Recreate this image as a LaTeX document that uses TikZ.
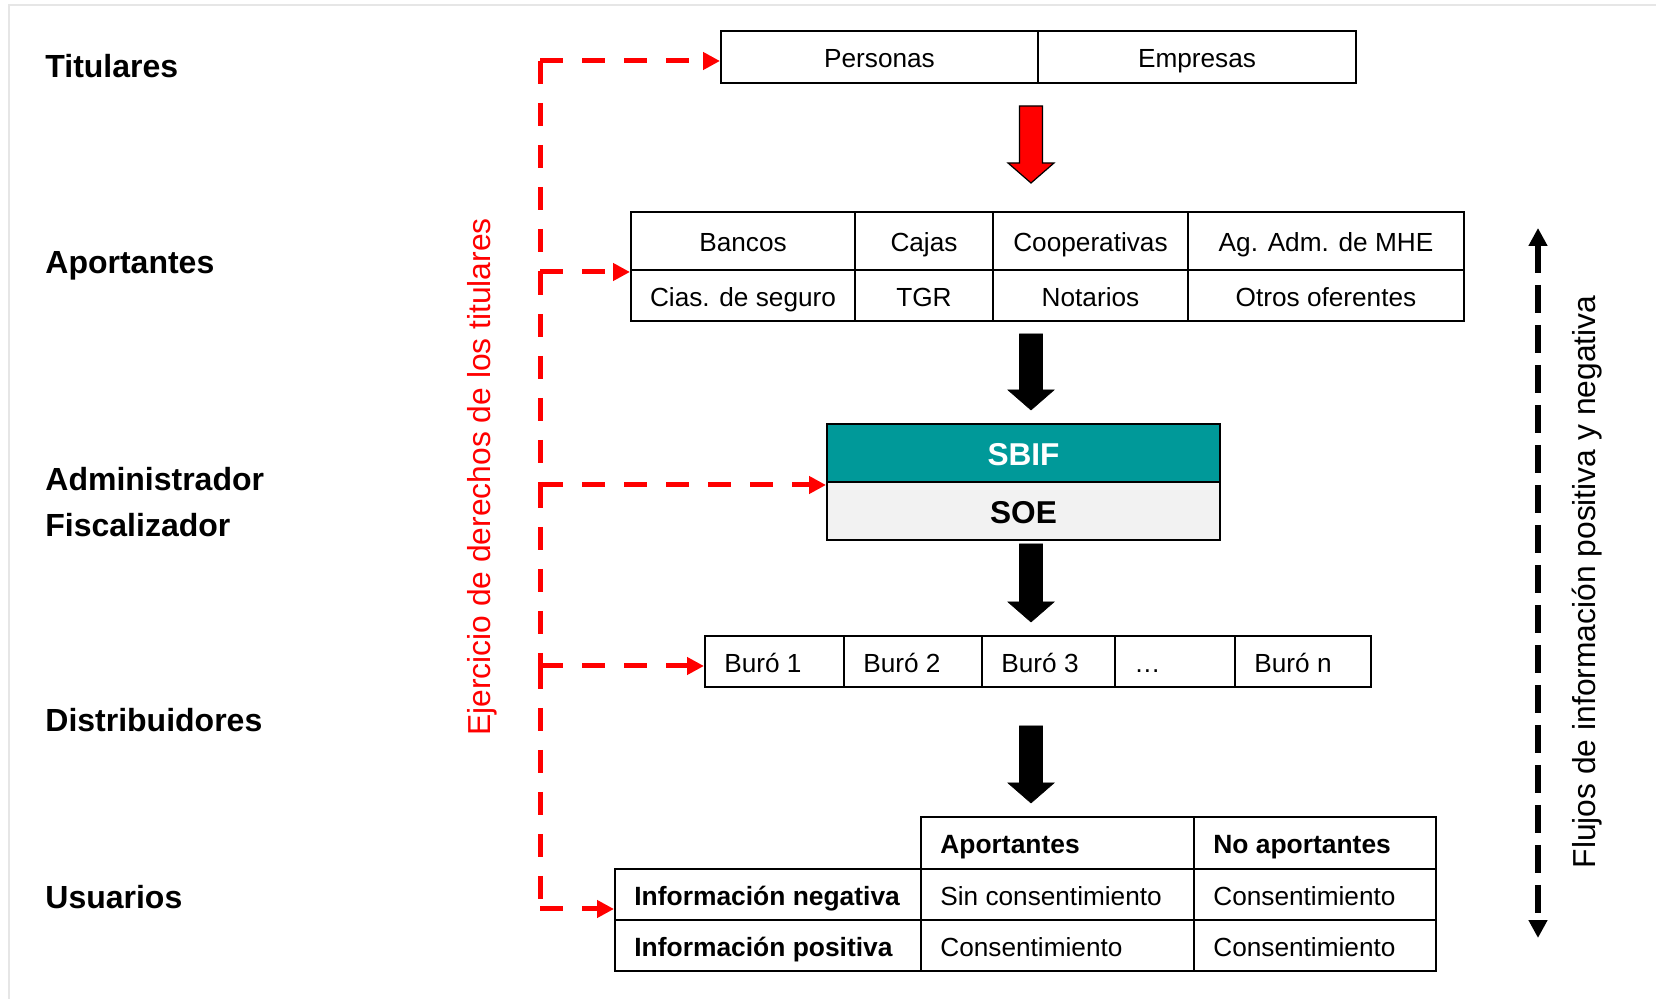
\documentclass[tikz,border=0pt]{standalone}
\usepackage{fontspec}
\setmainfont{Liberation Sans}
\usetikzlibrary{arrows.meta,calc}
\definecolor{tealbox}{RGB}{0,153,153}
\definecolor{soegray}{RGB}{242,242,242}
\definecolor{framegray}{RGB}{230,230,230}
\newcommand\mkcell[7][]{\node[cellst,minimum width={(#4-#2)*0.5pt},minimum height={(#5-#3)*0.5pt},#1] (#6) at ({(#2+#4)/2},{(#3+#5)/2}) {#7};}
\newcommand\blockarr[4]{\draw[#4] (#1-11.5,#2) -- (#1+11.5,#2) -- (#1+11.5,#3-20) -- (#1+23,#3-20) -- (#1,#3) -- (#1-23,#3-20) -- (#1-11.5,#3-20) -- cycle;}
\begin{document}
\begin{tikzpicture}[x=0.5pt,y=-0.5pt,
  cellst/.style={draw=black, line width=1pt, inner sep=0pt, text height=11pt, text depth=0pt, font=\fontsize{13.1}{15}\selectfont},
  bigcell/.style={text height=12.8pt, font=\fontsize{15.8}{19}\selectfont\bfseries},
  txt/.style={inner sep=0pt, text height=11pt, text depth=0pt, font=\fontsize{13.1}{15}\selectfont},
  boldtxt/.style={txt, font=\fontsize{13.2}{15}\selectfont\bfseries},
  tier/.style={anchor=base west, inner sep=0pt, font=\fontsize{16}{19}\selectfont\bfseries},
  rdash/.style={draw=red, line width=2.5pt, dash pattern=on 11.5pt off 9.5pt},
  rarrow/.style={rdash, -{Triangle[length=8.5pt,width=8.5pt]}},
  flowarrow/.style={draw=black, line width=2.8pt, dash pattern=on 14pt off 6pt, {Triangle[length=9pt,width=9pt]}-{Triangle[length=9pt,width=9pt]}}
]
\useasboundingbox (0,0) rectangle (1656,999);
\draw[framegray, line width=1.2pt] (9,999) -- (9,5) -- (1656,5);

% tier labels
\node[tier] (lt) at (45,78) {Titulares};
\node[tier] (la) at (45,274) {Aportantes};
\node[tier] (lad) at (45,491) {Administrador};
\node[tier] (lf) at (45,537) {Fiscalizador};
\node[tier] (ld) at (45,732) {Distribuidores};
\node[tier] (lu) at (45,908) {Usuarios};

% Titulares
\mkcell{721}{31}{1038}{83}{pers}{Personas}
\mkcell{1038}{31}{1356}{83}{emp}{Empresas}

% Aportantes
\mkcell{631}{212}{855}{270}{ap1}{Bancos}
\mkcell{855}{212}{993}{270}{ap2}{Cajas}
\mkcell{993}{212}{1188}{270}{ap3}{Cooperativas}
\mkcell{1188}{212}{1464}{270}{ap4}{Ag. Adm. de MHE}
\mkcell{631}{270}{855}{321}{ap5}{Cias. de seguro}
\mkcell{855}{270}{993}{321}{ap6}{TGR}
\mkcell{993}{270}{1188}{321}{ap7}{Notarios}
\mkcell{1188}{270}{1464}{321}{ap8}{Otros oferentes}

% SBIF / SOE
\mkcell[bigcell, fill=tealbox, text=white]{827}{424}{1220}{482}{sbif}{SBIF}
\mkcell[bigcell, fill=soegray]{827}{482}{1220}{540}{soe}{SOE}

% Buros
\mkcell{705}{636}{844}{687}{b1}{}
\mkcell{844}{636}{982}{687}{b2}{}
\mkcell{982}{636}{1115}{687}{b3}{}
\mkcell{1115}{636}{1235}{687}{b4}{}
\mkcell{1235}{636}{1371}{687}{b5}{}
\node[txt, anchor=west] (b1t) at ([xshift=10pt]b1.west) {Buró 1};
\node[txt, anchor=west] (b2t) at ([xshift=10pt]b2.west) {Buró 2};
\node[txt, anchor=west] (b3t) at ([xshift=10pt]b3.west) {Buró 3};
\node[txt, anchor=west] (b4t) at ([xshift=10pt]b4.west) {…};
\node[txt, anchor=west] (b5t) at ([xshift=10pt]b5.west) {Buró n};

% Usuarios table
\mkcell{921}{817}{1194}{869}{hd1}{}
\mkcell{1194}{817}{1436}{869}{hd2}{}
\mkcell{615}{869}{921}{920}{neg}{}
\mkcell{921}{869}{1194}{920}{neg1}{}
\mkcell{1194}{869}{1436}{920}{neg2}{}
\mkcell{615}{920}{921}{971}{pos}{}
\mkcell{921}{920}{1194}{971}{pos1}{}
\mkcell{1194}{920}{1436}{971}{pos2}{}
\node[boldtxt, anchor=west] (hd1t) at ([xshift=10pt]hd1.west) {Aportantes};
\node[boldtxt, anchor=west] (hd2t) at ([xshift=10pt]hd2.west) {No aportantes};
\node[boldtxt, anchor=west] (negt) at ([xshift=10pt]neg.west) {Información negativa};
\node[txt, anchor=west] (neg1t) at ([xshift=10pt]neg1.west) {Sin consentimiento};
\node[txt, anchor=west] (neg2t) at ([xshift=10pt]neg2.west) {Consentimiento};
\node[boldtxt, anchor=west] (post) at ([xshift=10pt]pos.west) {Información positiva};
\node[txt, anchor=west] (pos1t) at ([xshift=10pt]pos1.west) {Consentimiento};
\node[txt, anchor=west] (pos2t) at ([xshift=10pt]pos2.west) {Consentimiento};

% block arrows
\blockarr{1031}{106}{183}{fill=red, draw=black, line width=0.6pt}
\blockarr{1031}{334}{410}{fill=black, draw=black, line width=0.3pt}
\blockarr{1031}{544}{622}{fill=black, draw=black, line width=0.3pt}
\blockarr{1031}{726}{803}{fill=black, draw=black, line width=0.3pt}

% red rights connectors
\coordinate (r1) at (540,61);
\coordinate (r2) at (540,272);
\coordinate (r3) at (540,485);
\coordinate (r4) at (540,666);
\coordinate (r5) at (540,909);
\draw[rdash] (r1) -- (r2);
\draw[rdash] (r2) -- (r3);
\draw[rdash] (r3) -- (r4);
\draw[rdash] (r4) -- (r5);
\draw[rarrow] (r1) -- (r1 -| pers.west);
\draw[rarrow] (r2) -- (r2 -| ap1.west);
\draw[rarrow] (r3) -- (r3 -| sbif.west);
\draw[rarrow] (r4) -- (r4 -| b1.west);
\draw[rarrow] (r5) -- (r5 -| neg.west);
\node[rotate=90, anchor=base, inner sep=0pt, text=red, font=\fontsize{15.9}{19}\selectfont] (ej) at (490,477) {Ejercicio de derechos de los titulares};

% flow arrow
\coordinate (ftop) at (1538,228);
\coordinate (fbot) at (1538,938);
\draw[flowarrow] (ftop) -- (fbot);
\node[rotate=90, anchor=base, inner sep=0pt, font=\fontsize{15.9}{19}\selectfont] (fl) at (1595,582) {Flujos de información positiva y negativa};
\end{tikzpicture}
\end{document}
